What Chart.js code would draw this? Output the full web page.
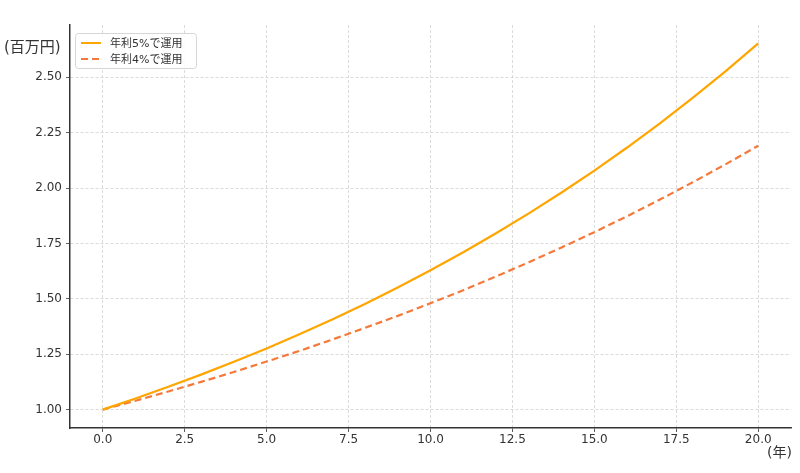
<!DOCTYPE html>
<html>
<head>
<meta charset="utf-8">
<script src="https://cdn.jsdelivr.net/npm/chart.js@4.4.1/dist/chart.umd.min.js"></script>
<style>
    html, body { margin: 0; padding: 0; background: #fff; }
    #wrap { width: 800px; height: 473px; }
</style>
</head>
<body>
<div id="wrap"><canvas id="growth-chart" width="800" height="473"></canvas></div>
<script>
// years and values (millions of yen)
const years = [0, 1, 2, 3, 4, 5, 6, 7, 8, 9, 10, 11, 12, 13, 14, 15, 16, 17, 18, 19, 20];
const rate5 = [1.000, 1.050, 1.103, 1.158, 1.216, 1.276, 1.340, 1.407, 1.477, 1.551, 1.629,
    1.710, 1.796, 1.886, 1.980, 2.079, 2.183, 2.292, 2.407, 2.527, 2.653];
const rate4 = [1.000, 1.040, 1.082, 1.125, 1.170, 1.217, 1.265, 1.316, 1.369, 1.423, 1.480,
    1.539, 1.601, 1.665, 1.732, 1.801, 1.873, 1.948, 2.026, 2.107, 2.191];
const xTicks = [0, 2.5, 5, 7.5, 10, 12.5, 15, 17.5, 20];
const yTicks = [1.0, 1.25, 1.5, 1.75, 2.0, 2.25, 2.5];
const seriesLabels = ["年利5%で運用", "年利4%で運用"];

const FONT = "'DejaVu Sans', 'Noto Sans CJK JP', sans-serif";
const TEXT = "#333333";

const ctx = document.getElementById("growth-chart").getContext("2d");

const toPoints = (vals) => vals.map((v, i) => ({ x: years[i], y: v }));

const labelsPlugin = {
    id: "axisLabels",
    afterDraw: (chart) => {
        const c = chart.ctx;
        const area = chart.chartArea;
        c.save();
        c.fillStyle = TEXT;
        c.font = "15px " + FONT;
        c.textBaseline = "middle";
        c.textAlign = "left";
        c.fillText("(百万円)", 4, area.top + 23);
        c.textAlign = "right";
        c.font = "14px " + FONT;
        c.fillText("(年)", 792, 453);
        c.restore();
    },
};

const legendPlugin = {
    id: "boxLegend",
    afterDraw: (chart) => {
        const c = chart.ctx;
        const left = chart.chartArea.left + 5;
        const top = chart.chartArea.top + 8;
        c.save();
        c.fillStyle = "rgba(255,255,255,0.9)";
        c.strokeStyle = "#d6d6d6";
        c.lineWidth = 1;
        c.beginPath();
        c.roundRect(left + 0.5, top + 0.5, 121, 35, 3);
        c.fill();
        c.stroke();
        chart.data.datasets.forEach((ds, i) => {
            const y = top + 10 + i * 16;
            c.strokeStyle = ds.borderColor;
            c.lineWidth = 2;
            c.setLineDash(ds.borderDash || []);
            c.beginPath();
            c.moveTo(left + 6, y);
            c.lineTo(left + 26, y);
            c.stroke();
            c.setLineDash([]);
            c.fillStyle = TEXT;
            c.font = "11px " + FONT;
            c.textAlign = "left";
            c.textBaseline = "middle";
            c.fillText(ds.label, left + 35, y + 1);
        });
        c.restore();
    },
};

new Chart(ctx, {
    type: "line",
    data: {
        datasets: [
            {
                label: seriesLabels[0],
                data: toPoints(rate5),
                borderColor: "#ffa500",
                borderWidth: 2.2,
                pointRadius: 0,
                tension: 0,
                fill: false,
            },
            {
                label: seriesLabels[1],
                data: toPoints(rate4),
                borderColor: "#f5793a",
                borderWidth: 2.2,
                borderDash: [7, 4],
                pointRadius: 0,
                tension: 0,
                fill: false,
            },
        ],
    },
    options: {
        responsive: false,
        animation: false,
        layout: {
            padding: { left: 0, right: 9, top: 25, bottom: 0 },
        },
        plugins: {
            legend: { display: false },
            tooltip: { enabled: false },
        },
        scales: {
            x: {
                type: "linear",
                min: -1,
                max: 21,
                afterBuildTicks: (scale) => {
                    scale.ticks = xTicks.map((v) => ({ value: v }));
                },
                afterFit: (scale) => {
                    scale.height = 45;
                },
                ticks: {
                    color: TEXT,
                    font: { family: FONT, size: 12 },
                    padding: 1,
                    maxRotation: 0,
                    callback: (v) => Number(v).toFixed(1),
                },
                grid: {
                    color: "#d2d2d2",
                    lineWidth: 0.8,
                    drawTicks: true,
                    tickLength: 4,
                    tickColor: TEXT,
                },
                border: {
                    display: true,
                    color: "#333333",
                    width: 1.5,
                    dash: [3, 2],
                },
            },
            y: {
                type: "linear",
                min: 0.917,
                max: 2.736,
                afterBuildTicks: (scale) => {
                    scale.ticks = yTicks.map((v) => ({ value: v }));
                },
                afterFit: (scale) => {
                    scale.width = 70;
                },
                ticks: {
                    color: TEXT,
                    font: { family: FONT, size: 12 },
                    padding: 4,
                    callback: (v) => Number(v).toFixed(2),
                },
                grid: {
                    color: "#d2d2d2",
                    lineWidth: 0.8,
                    drawTicks: true,
                    tickLength: 4,
                    tickColor: TEXT,
                },
                border: {
                    display: true,
                    color: "#333333",
                    width: 1.5,
                    dash: [3, 2],
                },
            },
        },
    },
    plugins: [labelsPlugin, legendPlugin],
});
</script>
</body>
</html>
